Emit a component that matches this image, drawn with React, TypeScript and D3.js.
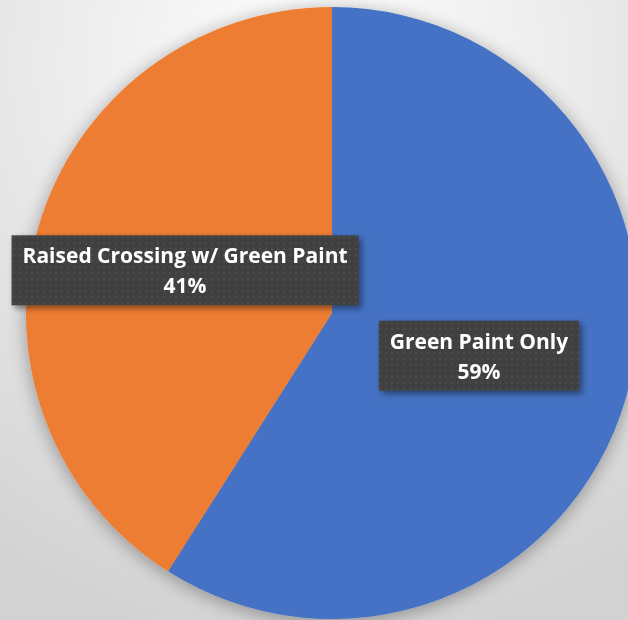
import React, { useEffect, useRef } from "react";
import * as d3 from "d3";

const categories = ["Green Paint Only", "Raised Crossing w/ Green Paint"];
const values = [59, 41];
const percentLabels = ["59%", "41%"];
const colors = ["#4472C4", "#ED7D31"];

const W = 628;
const H = 620;

export default function App() {
  const ref = useRef<SVGSVGElement | null>(null);

  useEffect(() => {
    const svg = d3.select(ref.current);
    svg.selectAll("*").remove();

    const defs = svg.append("defs");
    const bg = defs
      .append("radialGradient")
      .attr("id", "bg")
      .attr("cx", "50%")
      .attr("cy", "10%")
      .attr("r", "95%");
    bg.append("stop").attr("offset", "0%").attr("stop-color", "#ffffff");
    bg.append("stop").attr("offset", "100%").attr("stop-color", "#d2d2d2");

    const sh = defs
      .append("filter")
      .attr("id", "pieShadow")
      .attr("x", "-20%")
      .attr("y", "-20%")
      .attr("width", "140%")
      .attr("height", "140%");
    sh.append("feDropShadow")
      .attr("dx", 0)
      .attr("dy", 3)
      .attr("stdDeviation", 9)
      .attr("flood-color", "#000")
      .attr("flood-opacity", 0.35);

    const bsh = defs
      .append("filter")
      .attr("id", "boxShadow")
      .attr("x", "-10%")
      .attr("y", "-20%")
      .attr("width", "130%")
      .attr("height", "150%");
    bsh.append("feDropShadow")
      .attr("dx", 3)
      .attr("dy", 3)
      .attr("stdDeviation", 3)
      .attr("flood-color", "#000")
      .attr("flood-opacity", 0.45);

    const pat = defs
      .append("pattern")
      .attr("id", "dots")
      .attr("patternUnits", "userSpaceOnUse")
      .attr("width", 6)
      .attr("height", 6);
    pat.append("rect").attr("width", 6).attr("height", 6).attr("fill", "#3f3f3f");
    pat.append("rect").attr("x", 2).attr("y", 2).attr("width", 2).attr("height", 2).attr("fill", "#4d4d4d");

    svg.append("rect").attr("width", W).attr("height", H).attr("fill", "url(#bg)");

    const cx = 332;
    const cy = 313;
    const r = 306;

    const pie = d3.pie<number>().sort(null).value((d) => d);
    const arcs = pie(values);
    const arc = d3.arc<d3.PieArcDatum<number>>().innerRadius(0).outerRadius(r);

    const g = svg.append("g").attr("transform", `translate(${cx},${cy})`);
    const pg = g.append("g").attr("filter", "url(#pieShadow)");
    pg.selectAll("path")
      .data(arcs)
      .join("path")
      .attr("d", arc)
      .attr("fill", (_, i) => colors[i]);

    arcs.forEach((a, i) => {
      const [x, y] = arc.centroid(a);
      const lg = g.append("g").attr("transform", `translate(${x},${y})`);
      const box = lg.append("rect").attr("fill", "url(#dots)").attr("filter", "url(#boxShadow)");
      const t1 = lg
        .append("text")
        .attr("text-anchor", "middle")
        .attr("font-family", "'Open Sans', Lato, sans-serif")
        .attr("font-weight", 700)
        .attr("font-size", 21)
        .attr("fill", "#ffffff")
        .attr("y", -7)
        .text(categories[i]);
      lg.append("text")
        .attr("text-anchor", "middle")
        .attr("font-family", "'Open Sans', Lato, sans-serif")
        .attr("font-weight", 700)
        .attr("font-size", 21)
        .attr("fill", "#ffffff")
        .attr("y", 23)
        .text(percentLabels[i]);
      const tw = (t1.node() as SVGTextElement).getComputedTextLength();
      const bw = tw + 22;
      const bh = 70;
      box
        .attr("x", -bw / 2)
        .attr("y", -bh / 2)
        .attr("width", bw)
        .attr("height", bh);
    });
  }, []);

  return (
    <svg
      ref={ref}
      width={W}
      height={H}
      style={{ position: "fixed", left: 0, top: 0, display: "block" }}
    />
  );
}
